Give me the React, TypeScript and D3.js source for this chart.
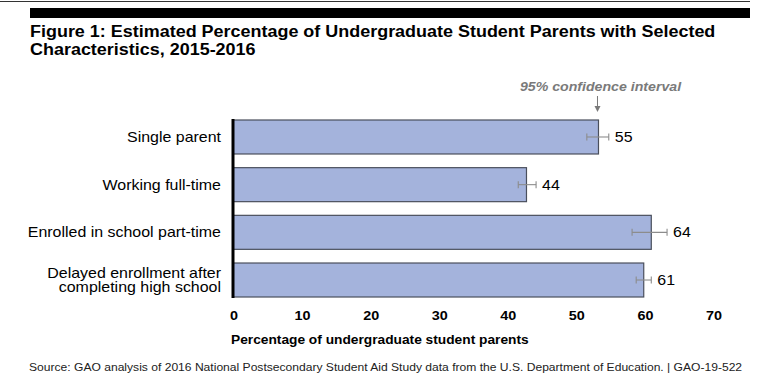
import React, { useEffect, useRef } from 'react';
import { select, scaleBand, scaleLinear } from 'd3';

// category labels (split into lines)
const categories = [
    ['Single parent'],
    ['Working full-time'],
    ['Enrolled in school part-time'],
    ['Delayed enrollment after', 'completing high school'],
];
// printed estimates
const reported = [55, 44, 64, 61];
// bar lengths as drawn in the figure
const drawn = [53.3, 42.8, 61.0, 59.9];
// 95% confidence interval
const ciLow = [51.6, 41.6, 58.2, 58.8];
const ciHigh = [54.8, 44.2, 63.3, 61.0];
const ticks = [0, 10, 20, 30, 40, 50, 60, 70];

const titleLines = [
    'Figure 1: Estimated Percentage of Undergraduate Student Parents with Selected',
    'Characteristics, 2015-2016',
];
const axisTitle = 'Percentage of undergraduate student parents';
const source = 'Source: GAO analysis of 2016 National Postsecondary Student Aid Study data from the U.S. Department of Education.  |  GAO-19-522';

const W = 761;
const H = 385;
const FONT = 'Liberation Sans, Arial, sans-serif';

// the source figure's type is a little wider than Liberation Sans
const place = (x: number, y: number, sx: number) =>
    `translate(${x},${y}) scale(${sx},1)`;

function BarChart() {
    const ref = useRef<SVGSVGElement>(null);

    useEffect(() => {
        const svg = select(ref.current);
        svg.selectAll('*').remove();

        const x = scaleLinear().domain([0, 70]).range([233, 713]);
        const y = scaleBand<number>()
            .domain(categories.map((_, i) => i))
            .range([120, 297])
            .paddingInner(0.287)
            .paddingOuter(0);

        // header rules
        svg.append('line')
            .attr('x1', 0).attr('x2', 750)
            .attr('y1', 1.5).attr('y2', 1.5)
            .attr('stroke', '#333').attr('stroke-width', 1);
        svg.append('rect')
            .attr('x', 30).attr('y', 8)
            .attr('width', 720).attr('height', 10)
            .attr('fill', '#000');

        svg.selectAll('text.title')
            .data(titleLines)
            .enter()
            .append('text')
            .attr('class', 'title')
            .attr('transform', (_, i) => place(30, 37 + i * 18, 1.07))
            .attr('font-family', FONT)
            .attr('font-weight', 'bold')
            .attr('font-size', 16.8)
            .attr('fill', '#000')
            .text(d => d);

        // bars
        svg.selectAll('rect.bar')
            .data(drawn)
            .enter()
            .append('rect')
            .attr('class', 'bar')
            .attr('x', x(0))
            .attr('y', (_, i) => y(i))
            .attr('width', d => x(d) - x(0))
            .attr('height', y.bandwidth())
            .attr('fill', '#a4b3dc')
            .attr('stroke', '#4a4f5c')
            .attr('stroke-width', 1.2);

        // error bars
        const cy = (i: number) => y(i) + y.bandwidth() / 2;
        const eb = svg.append('g')
            .attr('stroke', '#8c8c8c')
            .attr('stroke-width', 1.1);
        ciLow.forEach((lo, i) => {
            const hi = ciHigh[i];
            eb.append('line')
                .attr('x1', x(lo)).attr('x2', x(hi))
                .attr('y1', cy(i)).attr('y2', cy(i));
            [lo, hi].forEach(v => {
                eb.append('line')
                    .attr('x1', x(v)).attr('x2', x(v))
                    .attr('y1', cy(i) - 3.5).attr('y2', cy(i) + 3.5);
            });
        });

        // value labels
        svg.selectAll('text.value')
            .data(reported)
            .enter()
            .append('text')
            .attr('class', 'value')
            .attr('transform', (_, i) => place(x(ciHigh[i]) + 6, cy(i) + 5, 1.14))
            .attr('font-family', FONT)
            .attr('font-size', 14)
            .attr('fill', '#000')
            .text(d => d);

        // category labels
        categories.forEach((lines, i) => {
            const start = cy(i) + 5 - (lines.length - 1) * 7.5;
            const t = svg.append('text')
                .attr('transform', place(221, start, 1.14))
                .attr('text-anchor', 'end')
                .attr('font-family', FONT)
                .attr('font-size', 14)
                .attr('fill', '#000');
            lines.forEach((line, j) => {
                t.append('tspan')
                    .attr('x', 0)
                    .attr('y', j * 15)
                    .text(line);
            });
        });

        // y axis line
        svg.append('line')
            .attr('x1', x(0)).attr('x2', x(0))
            .attr('y1', 119).attr('y2', 298)
            .attr('stroke', '#000')
            .attr('stroke-width', 3);

        // x tick labels
        svg.selectAll('text.tick')
            .data(ticks)
            .enter()
            .append('text')
            .attr('class', 'tick')
            .attr('transform', d => place(x(d) + 1, 320, 1.2))
            .attr('text-anchor', 'middle')
            .attr('font-family', FONT)
            .attr('font-weight', 'bold')
            .attr('font-size', 12)
            .attr('fill', '#000')
            .text(d => d);

        svg.append('text')
            .attr('transform', place(231, 344, 1.1))
            .attr('font-family', FONT)
            .attr('font-weight', 'bold')
            .attr('font-size', 12.5)
            .attr('fill', '#000')
            .text(axisTitle);

        // confidence interval callout
        const ax = x(drawn[0]) - 1;
        svg.append('text')
            .attr('transform', place(ax + 3, 91, 1.18))
            .attr('text-anchor', 'middle')
            .attr('font-family', FONT)
            .attr('font-weight', 'bold')
            .attr('font-style', 'italic')
            .attr('font-size', 12)
            .attr('fill', '#7a7a7a')
            .text('95% confidence interval');
        svg.append('line')
            .attr('x1', ax).attr('x2', ax)
            .attr('y1', 96).attr('y2', 110)
            .attr('stroke', '#7a7a7a').attr('stroke-width', 1);
        svg.append('path')
            .attr('d', `M${ax - 3},${106} L${ax + 3},${106} L${ax},${112} Z`)
            .attr('fill', '#7a7a7a');

        svg.append('text')
            .attr('transform', place(29, 371, 1.1))
            .attr('font-family', FONT)
            .attr('font-size', 11)
            .attr('fill', '#222')
            .text(source);
    }, []);

    return (
        <svg
            ref={ref}
            width={W}
            height={H}
            style={{ position: 'absolute', left: 0, top: 0, background: '#fff' }}
        />
    );
}

export default function App() {
    return <BarChart />;
}
